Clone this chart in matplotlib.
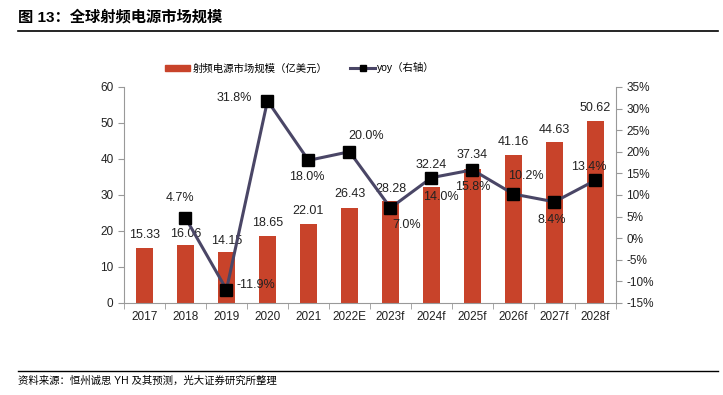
import numpy as np
import matplotlib.pyplot as plt
from matplotlib.lines import Line2D
from matplotlib.patches import Patch

plt.rcParams['font.family'] = ['Liberation Sans', 'Noto Sans CJK SC', 'DejaVu Sans']

# data
years = ['2017', '2018', '2019', '2020', '2021', '2022E', '2023f',
         '2024f', '2025f', '2026f', '2027f', '2028f']
market = [15.33, 16.06, 14.15, 18.65, 22.01, 26.43, 28.28,
          32.24, 37.34, 41.16, 44.63, 50.62]
yoy = [4.7, -11.9, 31.8, 18.0, 20.0, 7.0, 14.0, 15.8, 10.2, 8.4, 13.4]  # starts 2018

# label placement (points)
bar_lift = [9, 8, 8, 9, 9, 10, 9, 16, 10, 9, 9, 9]
yoy_offsets = [(-4, 14), (21, 3), (-24, 2), (-1.5, -12), (12, 11), (11.5, -12),
               (7, -14), (0, -12), (9, 13), (-2, -13), (-5, 9.5)]

bar_color = '#C8432A'
line_color = '#4A4666'
txt = '#222222'

fig = plt.figure(figsize=(7.23, 3.95), dpi=100)
ax = fig.add_axes([0.1715, 0.233, 0.6805, 0.547])
ax2 = ax.twinx()

x = np.arange(len(years))
ax.bar(x, market, width=0.43, color=bar_color, zorder=2)
for xi, v, dy in zip(x, market, bar_lift):
    ax.annotate(f'{v:.2f}', (xi, v), xytext=(0, dy), textcoords='offset points',
                ha='center', va='center', fontsize=9, color=txt)

xl = x[1:]
ax2.plot(xl, yoy, color=line_color, lw=2.2, marker='s', ms=8,
         mfc='black', mec='black', zorder=3)
for xi, v, off in zip(xl, yoy, yoy_offsets):
    ax2.annotate(f'{v:.1f}%', (xi, v), xytext=off, textcoords='offset points',
                 ha='center', va='center', fontsize=9, color=txt, zorder=5)

ax.set_xlim(-0.5, len(years) - 0.5)
ax.set_ylim(0, 60)
ax.set_yticks(range(0, 61, 10))
ax2.set_ylim(-15, 35)
ax2.set_yticks(range(-15, 36, 5))
ax2.set_yticklabels([f'{t}%' for t in range(-15, 36, 5)])

ax.set_xticks(x)
ax.set_xticklabels(years)
ax.set_xticks(np.arange(-0.5, len(years), 1), minor=True)
ax.tick_params(axis='x', which='major', length=0, labelsize=8.5, colors=txt, pad=6)
ax.tick_params(axis='x', which='minor', length=4, color='#999999')
ax.tick_params(axis='y', labelsize=8.5, colors=txt, length=4, color='#999999')
ax2.tick_params(axis='y', labelsize=8.5, colors=txt, length=4, color='#999999')

for a in (ax, ax2):
    a.spines['top'].set_visible(False)
    for s in ('left', 'right', 'bottom'):
        a.spines[s].set_color('#999999')
ax.spines['right'].set_visible(False)
ax2.spines['left'].set_visible(False)
ax2.spines['bottom'].set_visible(False)

handles = [Patch(color=bar_color),
           Line2D([], [], color=line_color, lw=2.2, marker='s', ms=4,
                  mfc='black', mec='black')]
fig.legend(handles, ['射频电源市场规模（亿美元）', 'yoy（右轴）'],
           loc='center', bbox_to_anchor=(0.415, 0.828), ncol=2, frameon=False,
           fontsize=7.5, handlelength=2.4, handleheight=0.5, columnspacing=2.2,
           handletextpad=0.2)

fig.text(0.025, 0.957, '图 13：全球射频电源市场规模', fontsize=11,
         fontweight='bold', ha='left', va='center', color='black')
fig.add_artist(Line2D([0.025, 0.993], [0.921, 0.921], color='black', lw=1.2))
fig.add_artist(Line2D([0.025, 0.993], [0.061, 0.061], color='black', lw=1.0))
fig.text(0.025, 0.035, '资料来源：恒州诚思 YH 及其预测，光大证券研究所整理', fontsize=7.5,
         ha='left', va='center', color='black')

fig.savefig('out.png', dpi=100)
